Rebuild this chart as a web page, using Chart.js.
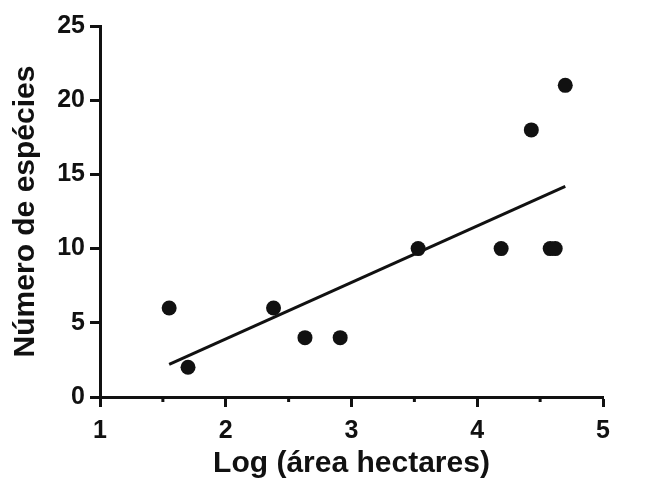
<!DOCTYPE html>
<html>
<head>
<meta charset="utf-8">
<script src="https://cdn.jsdelivr.net/npm/chart.js@4"></script>
<style>
  html, body { margin: 0; padding: 0; background: #fff; }
  #wrap { width: 670px; height: 485px; }
</style>
</head>
<body>
<div id="wrap"><canvas id="chart" width="670" height="485"></canvas></div>
<script>
// data
const logArea = [1.55, 1.70, 2.38, 2.63, 2.91, 3.53, 4.19, 4.43, 4.58, 4.62, 4.70];
const species = [6, 2, 6, 4, 4, 10, 10, 18, 10, 10, 21];
const fitX = [1.55, 4.70];
const fitY = [2.2, 14.2];
const xMinorTicks = [1.5, 2.5, 3.5, 4.5];

const ink = '#111';
const fontFamily = '"Liberation Sans", Arial, Helvetica, sans-serif';

const points = logArea.map((x, i) => ({ x: x, y: species[i] }));
const fitLine = fitX.map((x, i) => ({ x: x, y: fitY[i] }));

// half-step ticks on the x axis, shorter than the major ones
const minorTicks = {
    id: 'minorTicks',
    afterDraw(chart) {
        const xs = chart.scales.x;
        const ctx = chart.ctx;
        ctx.save();
        ctx.strokeStyle = ink;
        ctx.lineWidth = 3;
        xMinorTicks.forEach(v => {
            const px = xs.getPixelForValue(v);
            ctx.beginPath();
            ctx.moveTo(px, xs.top);
            ctx.lineTo(px, xs.top + 5);
            ctx.stroke();
        });
        ctx.restore();
    }
};

new Chart(document.getElementById('chart'), {
    type: 'scatter',
    data: {
        datasets: [
            {
                data: points,
                pointRadius: 7.5,
                pointHoverRadius: 7.5,
                pointBackgroundColor: ink,
                pointBorderWidth: 0,
                showLine: false
            },
            {
                type: 'line',
                data: fitLine,
                borderColor: ink,
                borderWidth: 3,
                pointRadius: 0,
                fill: false
            }
        ]
    },
    options: {
        responsive: false,
        animation: false,
        layout: { padding: { left: 0, top: 26, right: 67, bottom: 0 } },
        plugins: { legend: { display: false }, tooltip: { enabled: false } },
        scales: {
            x: {
                type: 'linear',
                min: 1,
                max: 5,
                afterFit: s => { s.height = 88; },
                border: { color: ink, width: 3 },
                grid: { drawOnChartArea: false, color: ink, tickLength: 10, tickWidth: 3 },
                ticks: { stepSize: 1, color: ink, padding: 9, font: { family: fontFamily, size: 25, weight: 'bold' } },
                title: {
                    display: true,
                    text: 'Log (área hectares)',
                    color: ink,
                    padding: { top: 0, bottom: 3 },
                    font: { family: fontFamily, size: 30, weight: 'bold' }
                }
            },
            y: {
                min: 0,
                max: 25,
                afterFit: s => { s.width = 100; },
                border: { color: ink, width: 3 },
                grid: { drawOnChartArea: false, color: ink, tickLength: 10, tickWidth: 3 },
                ticks: { stepSize: 5, color: ink, padding: 5, font: { family: fontFamily, size: 25, weight: 'bold' } },
                title: {
                    display: true,
                    text: 'Número de espécies',
                    color: ink,
                    padding: { top: 8, bottom: 0 },
                    font: { family: fontFamily, size: 30, weight: 'bold' }
                }
            }
        }
    },
    plugins: [minorTicks]
});
</script>
</body>
</html>
